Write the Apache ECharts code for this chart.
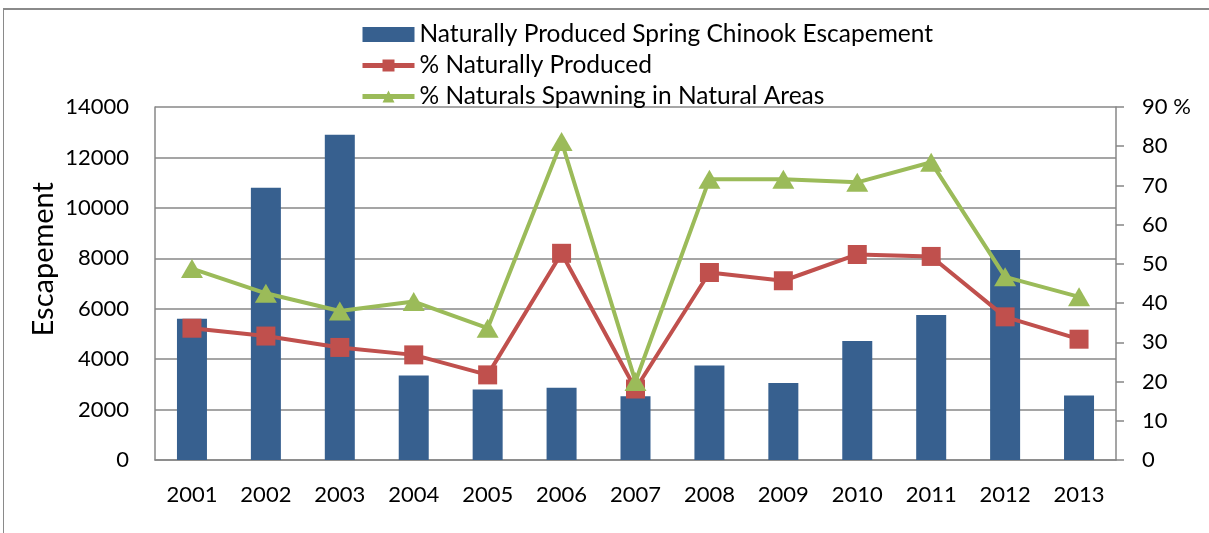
<!DOCTYPE html>
<html lang="en">
<head>
    <meta charset="UTF-8">
    <title>Spring Chinook Escapement</title>
    <style>
        html, body { margin: 0; padding: 0; background: #fff; }
        #frame {
            position: absolute; left: 3px; top: 8px; width: 1300px; height: 600px;
            border-top: 2px solid #8a8a8a; border-left: 1px solid #8a8a8a;
        }
        #main { position: absolute; left: 0; top: 0; width: 1209px; height: 533px; }
    </style>
</head>
<body>
    <div id="frame"></div>
    <div id="main"></div>
    <script src="https://cdn.jsdelivr.net/npm/echarts@6/dist/echarts.min.js"></script>
    <script>
        var years = ['2001','2002','2003','2004','2005','2006','2007','2008','2009','2010','2011','2012','2013'];
        var escapement = [5600, 10800, 12900, 3350, 2800, 2870, 2530, 3750, 3050, 4720, 5750, 8330, 2560];
        var pctNatural = [33.6, 31.6, 28.7, 26.8, 21.7, 52.7, 18.1, 47.8, 45.7, 52.4, 51.9, 36.5, 30.8];
        var pctSpawning = [48.8, 42.5, 38.0, 40.4, 33.6, 81.2, 20.0, 71.6, 71.6, 70.8, 75.9, 46.7, 41.6];

        var font = 'Lato, "Open Sans", sans-serif';
        var grey = '#878787';

        var myChart = echarts.init(document.getElementById('main'));
        var option = {
            animation: false,
            textStyle: { fontFamily: font },
            legend: {
                orient: 'vertical',
                left: 360,
                top: 22,
                padding: 0,
                itemWidth: 52,
                itemHeight: 15,
                itemGap: 6,
                textStyle: { fontSize: 24.5, lineHeight: 24, color: '#000', fontFamily: font },
                data: [
                    { name: 'Naturally Produced Spring Chinook Escapement', icon: 'rect' },
                    { name: '% Naturally Produced', lineStyle: { width: 5 } },
                    { name: '% Naturals Spawning in Natural Areas', lineStyle: { width: 5 } }
                ]
            },
            grid: { left: 155, right: 93, top: 107, bottom: 73 },
            xAxis: {
                type: 'category',
                data: years,
                axisLine: { lineStyle: { color: grey, width: 1.5 } },
                axisTick: { show: false },
                axisLabel: { fontSize: 22, color: '#000', margin: 24, fontFamily: font }
            },
            yAxis: [
                {
                    type: 'value',
                    min: 0,
                    max: 14000,
                    interval: 2000,
                    axisLine: { show: true, lineStyle: { color: grey, width: 1.5 } },
                    axisTick: { show: false },
                    splitLine: { lineStyle: { color: grey, width: 1.5 } },
                    axisLabel: {
                        fontSize: 22, color: '#000', margin: 26, fontFamily: font,
                        formatter: function (v) { return String(v); }
                    }
                },
                {
                    type: 'value',
                    min: 0,
                    max: 90,
                    interval: 10,
                    position: 'right',
                    axisLine: { show: true, lineStyle: { color: grey, width: 1.5 } },
                    axisTick: { show: true, length: 8, lineStyle: { color: grey, width: 1.5 } },
                    splitLine: { show: false },
                    axisLabel: {
                        fontSize: 22, color: '#000', margin: 26, fontFamily: font,
                        formatter: function (v) { return v === 90 ? '90 %' : String(v); }
                    }
                }
            ],
            graphic: [
                {
                    type: 'text',
                    left: 29,
                    top: 182,
                    rotation: Math.PI / 2,
                    style: { text: 'Escapement', fontSize: 29, fontFamily: font, fill: '#000' }
                }
            ],
            series: [
                {
                    name: 'Naturally Produced Spring Chinook Escapement',
                    type: 'bar',
                    data: escapement,
                    barWidth: 30,
                    itemStyle: { color: '#37608f' },
                    z: 1
                },
                {
                    name: '% Naturally Produced',
                    type: 'line',
                    yAxisIndex: 1,
                    data: pctNatural,
                    symbol: 'rect',
                    symbolSize: 19,
                    lineStyle: { color: '#c0504d', width: 4 },
                    itemStyle: { color: '#c0504d' },
                    z: 3
                },
                {
                    name: '% Naturals Spawning in Natural Areas',
                    type: 'line',
                    yAxisIndex: 1,
                    data: pctSpawning,
                    symbol: 'triangle',
                    symbolSize: [22, 19],
                    lineStyle: { color: '#9bbb59', width: 4 },
                    itemStyle: { color: '#9bbb59' },
                    z: 4
                }
            ]
        };
        myChart.setOption(option);
    </script>
</body>
</html>
